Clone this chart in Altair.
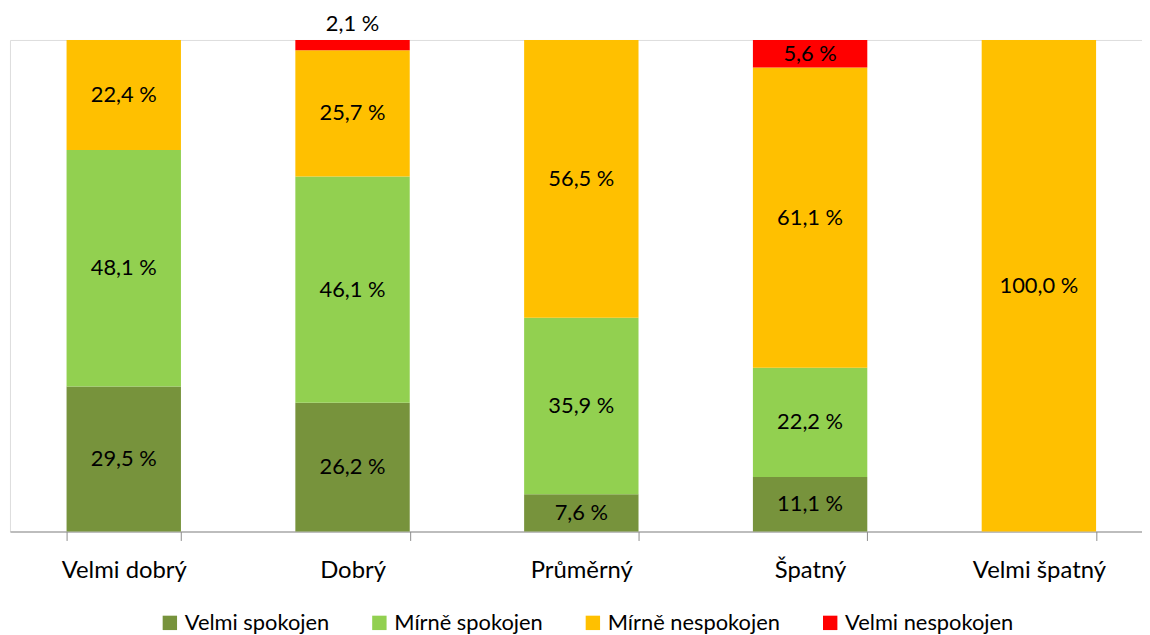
import altair as alt
import pandas as pd

categories = ["Velmi dobrý", "Dobrý", "Průměrný", "Špatný", "Velmi špatný"]
series = ["Velmi spokojen", "Mírně spokojen", "Mírně nespokojen", "Velmi nespokojen"]
colors = ["#77933C", "#92D050", "#FFC000", "#FF0000"]

velmi_spokojen = [29.5, 26.2, 7.6, 11.1, 0.0]
mirne_spokojen = [48.1, 46.1, 35.9, 22.2, 0.0]
mirne_nespokojen = [22.4, 25.7, 56.5, 61.1, 100.0]
velmi_nespokojen = [0.0, 2.1, 0.0, 5.6, 0.0]

values = [velmi_spokojen, mirne_spokojen, mirne_nespokojen, velmi_nespokojen]
rows = []
for si, s in enumerate(series):
    for ci, c in enumerate(categories):
        rows.append({"kategorie": c, "serie": s, "poradi": si, "hodnota": values[si][ci]})
df = pd.DataFrame(rows)
df = df[df["hodnota"] > 0]

FONT = "Lato"

xscale = alt.Scale(paddingInner=0.5, paddingOuter=0.224, align=0.552)

x = alt.X("kategorie:N", sort=categories, scale=xscale,
          axis=alt.Axis(title=None, labelAngle=0, tickBand="extent", tickSize=9,
                        domainColor="#8C8C8C", tickColor="#8C8C8C", domainWidth=1,
                        labelFont=FONT, labelFontSize=24, labelColor="#000000",
                        labelPadding=18))

base = alt.Chart(df).transform_stack(
    stack="hodnota", groupby=["kategorie"], as_=["y0", "y1"],
    sort=[alt.SortField("poradi", order="ascending")], offset="normalize"
)

bars = base.mark_bar().encode(
    x=x,
    y=alt.Y("y0:Q", scale=alt.Scale(domain=[0, 1]), axis=None),
    y2="y1:Q",
    color=alt.Color("serie:N", sort=series,
                    scale=alt.Scale(domain=series, range=colors),
                    legend=alt.Legend(title=None, orient="none", direction="horizontal",
                                      legendX=150, legendY=576,
                                      symbolType="square", symbolSize=210,
                                      symbolStrokeWidth=0, symbolOpacity=1,
                                      labelFont=FONT, labelFontSize=22, labelLimit=400,
                                      labelColor="#000000", labelOffset=4,
                                      columnPadding=39)),
    order=alt.Order("poradi:Q"),
)

labels = base.transform_calculate(
    ymid="datum.serie == 'Velmi nespokojen' && datum.hodnota < 2.5 ? 1.033 : (datum.y0 + datum.y1) / 2",
    txt="replace(format(datum.hodnota, '.1f'), '.', ',') + ' %'"
).mark_text(font=FONT, fontSize=22, color="#000000", baseline="middle").encode(
    x=alt.X("kategorie:N", sort=categories, scale=xscale),
    y=alt.Y("ymid:Q"),
    text="txt:N",
)

chart = (bars + labels).properties(
    width=1140, height=495,
    padding={"left": 2, "top": 30, "right": 0, "bottom": 102},
    autosize=alt.AutoSizeParams(type="none"),
).configure_view(stroke=None).configure(background="#FFFFFF")

chart.save("out.html", embed_options={"renderer": "svg", "actions": False})
